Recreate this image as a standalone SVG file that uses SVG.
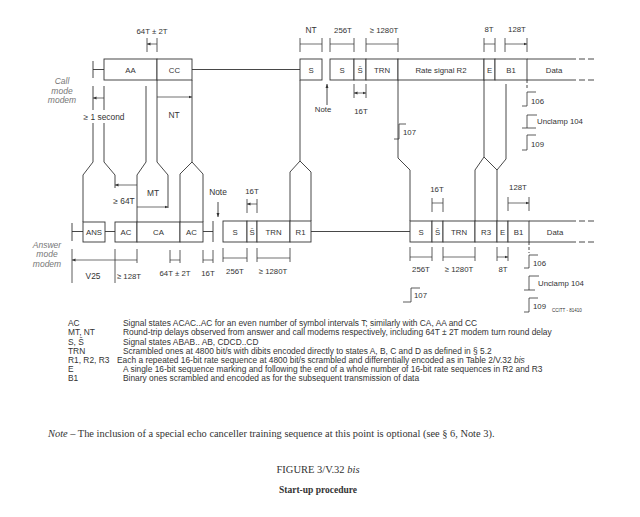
<svg xmlns="http://www.w3.org/2000/svg" width="640" height="517" viewBox="0 0 640 517">
<defs>
<marker id="ah" viewBox="0 0 6 6" refX="6" refY="3" markerUnits="userSpaceOnUse" markerWidth="3.5" markerHeight="3.5" orient="auto-start-reverse"><path d="M0,0.6 L6,3 L0,5.4z" fill="#333"/></marker>
<marker id="nh" viewBox="0 0 6 6" refX="6" refY="3" markerUnits="userSpaceOnUse" markerWidth="4" markerHeight="4" orient="auto"><path d="M0,0.8 L6,3 L0,5.2z" fill="#333"/></marker>
<style>
.ln{fill:none;stroke:#333;stroke-width:0.9}
.bx rect{fill:#fff;stroke:#333;stroke-width:0.9}
.tk{fill:none;stroke:#333;stroke-width:0.8}
.dm{fill:none;stroke:#333;stroke-width:0.7;marker-start:url(#ah);marker-end:url(#ah)}
.dash{fill:none;stroke:#333;stroke-width:0.9;stroke-dasharray:6,3}
text{font-family:"Liberation Sans",Arial,sans-serif;fill:#333}
.b{font-size:7.8px;text-anchor:middle}
.d{font-size:7.8px;text-anchor:middle}
.m{font-size:8.4px;text-anchor:middle}
.s{font-size:7.8px}
.lab{font-size:8.5px;font-style:italic;fill:#777;text-anchor:middle}
.lg{font-size:8.4px}
.sf{font-family:"Liberation Serif","Times New Roman",serif}
</style>
</defs>
<rect width="640" height="517" fill="#fff"/>

<g id="connectors" class="ln">
<path d="M93,86 V110 M93,123 V162 L83,175 V222"/>
<path d="M104,86 V110 M104,123 V162 L115,175 V188"/>
<path d="M146,86 V162 L137,175 V222"/>
<path d="M157,80 V162 L168,175 V208"/>
<path d="M192,80 V162 M180,222 V174 L192,162 L203,174 V222"/>
<path d="M300,80 V161 M290,221 V172 L300,161 L311,172 V221"/>
<path d="M398,80 V158 L410,170 V221"/>
<path d="M484,80 V157 M475,221 V170 L484,157 L497,170 V221 M506,84 V159 L497,170"/>
<path d="M93,61 V78 M93,69.5 H104 M192,69.5 H300"/>
<path d="M72,223 V241 M72,231.5 H83 M105,231.5 H115 M203,231.5 H213 M213,221 V242 M311,231.5 H410"/>
</g>

<g id="call-label"><text class="lab" x="62" y="84">Call</text><text class="lab" x="62" y="93.5">mode</text><text class="lab" x="62" y="103">modem</text></g>
<g id="answer-label"><text class="lab" x="47" y="247.5">Answer</text><text class="lab" x="47" y="257">mode</text><text class="lab" x="47" y="267">modem</text></g>

<g id="call-AA" class="bx"><rect x="104" y="59" width="53" height="21"/><text class="b" x="130.5" y="72.5">AA</text></g>
<g id="call-CC" class="bx"><rect x="157" y="59" width="35" height="21"/><text class="b" x="174.5" y="72.5">CC</text></g>
<g id="call-S1" class="bx"><rect x="300" y="59" width="22" height="21"/><text class="b" x="311" y="72.5">S</text></g>
<g id="call-S2" class="bx"><rect x="330" y="59" width="24" height="21"/><text class="b" x="342" y="72.5">S</text></g>
<g id="call-Sbar" class="bx"><rect x="354" y="59" width="12" height="21"/><text class="b" x="360" y="72.5">S&#772;</text></g>
<g id="call-TRN" class="bx"><rect x="366" y="59" width="32" height="21"/><text class="b" x="382" y="72.5">TRN</text></g>
<g id="call-R2" class="bx"><rect x="398" y="59" width="86" height="21"/><text class="b" x="441" y="72.5">Rate signal R2</text></g>
<g id="call-E" class="bx"><rect x="484" y="59" width="11" height="21"/><text class="b" x="489.5" y="72.5">E</text></g>
<g id="call-B1" class="bx"><rect x="495" y="59" width="32" height="21"/><text class="b" x="511" y="72.5">B1</text></g>
<g id="call-Data"><path class="ln" d="M527,59 H576 M527,80 H576"/><path class="dash" d="M579,59 H594 M579,80 H594"/><text class="b" x="554" y="72.5">Data</text></g>

<g id="ans-ANS" class="bx"><rect x="83" y="222" width="22" height="20"/><text class="b" x="94" y="235">ANS</text></g>
<g id="ans-AC1" class="bx"><rect x="115" y="222" width="22" height="20"/><text class="b" x="126" y="235">AC</text></g>
<g id="ans-CA" class="bx"><rect x="137" y="222" width="43" height="20"/><text class="b" x="158.5" y="235">CA</text></g>
<g id="ans-AC2" class="bx"><rect x="180" y="222" width="23" height="20"/><text class="b" x="191.5" y="235">AC</text></g>
<g id="ans-S1" class="bx"><rect x="223" y="221" width="24" height="21"/><text class="b" x="235" y="234.5">S</text></g>
<g id="ans-Sbar1" class="bx"><rect x="247" y="221" width="10" height="21"/><text class="b" x="252" y="234.5">S&#772;</text></g>
<g id="ans-TRN1" class="bx"><rect x="257" y="221" width="33" height="21"/><text class="b" x="273.5" y="234.5">TRN</text></g>
<g id="ans-R1" class="bx"><rect x="290" y="221" width="21" height="21"/><text class="b" x="300.5" y="234.5">R1</text></g>
<g id="ans-S2" class="bx"><rect x="410" y="221" width="22" height="21"/><text class="b" x="421" y="234.5">S</text></g>
<g id="ans-Sbar2" class="bx"><rect x="432" y="221" width="11" height="21"/><text class="b" x="437.5" y="234.5">S&#772;</text></g>
<g id="ans-TRN2" class="bx"><rect x="443" y="221" width="32" height="21"/><text class="b" x="459" y="234.5">TRN</text></g>
<g id="ans-R3" class="bx"><rect x="475" y="221" width="22" height="21"/><text class="b" x="486" y="234.5">R3</text></g>
<g id="ans-E" class="bx"><rect x="497" y="221" width="11" height="21"/><text class="b" x="502.5" y="234.5">E</text></g>
<g id="ans-B1" class="bx"><rect x="508" y="221" width="21" height="21"/><text class="b" x="518.5" y="234.5">B1</text></g>
<g id="ans-Data"><path class="ln" d="M529,221 H576 M529,242 H576"/><path class="dash" d="M579,221 H594 M579,242 H594"/><text class="b" x="555" y="234.5">Data</text></g>

<g id="dims">
<path class="tk" d="M147,38 V52 M157,38 V52 M300,38 V52 M322,38 V52 M330,38 V52 M354,38 V52 M366,38 V52 M398,38 V52 M484,38 V52 M495,38 V52 M505,38 V52 M527,38 V52"/>
<path class="dm" d="M147,44 H157 M300,44 H322 M330,44 H354 M366,44 H398 M484,44 H495 M505,44 H527"/>
<text class="d" x="152" y="34">64T &#177; 2T</text>
<text class="m" x="311" y="33">NT</text>
<text class="d" x="343" y="33">256T</text>
<text class="d" x="384" y="33">&#8805; 1280T</text>
<text class="d" x="489" y="32">8T</text>
<text class="d" x="517" y="32">128T</text>
<path class="tk" d="M354,84 V98 M366,84 V98"/>
<path class="dm" d="M354,93 H366"/>
<text class="d" x="361" y="114">16T</text>
<path class="ln" d="M327,105 V84" marker-end="url(#nh)"/>
<text class="d" x="323" y="112">Note</text>
<path class="dm" d="M93,98 H104 M157,97 H192"/>
<text class="m" x="104" y="120">&#8805; 1 second</text>
<text class="m" x="174" y="118">NT</text>
<path class="dm" d="M115,185 H137 M137,207 H168"/>
<text class="m" x="124" y="204">&#8805; 64T</text>
<text class="m" x="153" y="196">MT</text>
<text class="m" x="218" y="195">Note</text>
<path class="ln" d="M218,202 V217" marker-end="url(#nh)"/>
<path class="tk" d="M247,199 V213 M257,199 V213 M432,198 V212 M443,198 V212 M508,197 V211 M529,197 V211"/>
<path class="dm" d="M247,204 H257 M432,203 H443 M508,203 H529"/>
<text class="d" x="252" y="194">16T</text>
<text class="d" x="437" y="192">16T</text>
<text class="d" x="518" y="190">128T</text>
<path class="tk" d="M72,249 V283 M115,249 V283 M137,249 V263 M170,250 V263 M180,250 V263 M203,250 V263 M213,250 V263 M223,248 V262 M247,248 V262 M257,248 V262 M290,248 V262 M410,247 V261 M432,247 V261 M443,247 V261 M475,247 V261 M497,247 V261 M508,247 V261"/>
<path class="dm" d="M72,260 H115 M115,260 H137 M170,260 H180 M203,260 H213 M223,258 H247 M257,258 H290 M410,257 H432 M443,257 H475 M497,257 H508"/>
<text class="m" x="93" y="279">V25</text>
<text class="d" x="129" y="279">&#8805; 128T</text>
<text class="d" x="175" y="276">64T &#177; 2T</text>
<text class="d" x="208" y="276">16T</text>
<text class="d" x="235" y="274">256T</text>
<text class="d" x="273" y="274">&#8805; 1280T</text>
<text class="d" x="421" y="272">256T</text>
<text class="d" x="459" y="272">&#8805; 1280T</text>
<text class="d" x="503" y="272">8T</text>
</g>

<g id="circuits">
<path class="tk" d="M394,139 H399 V124 H406"/><text class="s" x="403" y="135">107</text>
<path class="dash" d="M527,80 V90" style="stroke-dasharray:3,2"/>
<path class="tk" d="M522,106 H527 V92 H536"/><text class="s" x="531" y="104">106</text>
<path class="tk" d="M522,128 H536 M527,128 V115 H537"/><text class="s" x="537" y="124" fill="#555">Unclamp 104</text>
<path class="tk" d="M522,150 H527 V135 H536"/><text class="s" x="531" y="147">109</text>
<path class="tk" d="M403,302 H411 V288 H420"/><text class="s" x="414" y="298">107</text>
<path class="dash" d="M529,242 V253" style="stroke-dasharray:3,2"/>
<path class="tk" d="M524,268 H529 V255 H538"/><text class="s" x="533" y="266">106</text>
<path class="tk" d="M524,290 H535 M529,290 V276 H539"/><text class="s" x="538" y="286" fill="#555">Unclamp 104</text>
<path class="tk" d="M524,312 H529 V298 H538"/><text class="s" x="533" y="309">109</text>
<text x="552" y="312" font-size="4.5">CCITT - 81410</text>
</g>

<g id="legend" class="lg">
<text x="68" y="325.5">AC</text><text x="123" y="325.5">Signal states ACAC..AC for an even number of symbol intervals T; similarly with CA, AA and CC</text>
<text x="68" y="335">MT, NT</text><text x="123" y="335">Round-trip delays observed from answer and call modems respectively, including 64T &#177; 2T modem turn round delay</text>
<text x="68" y="344.5">S, S&#772;</text><text x="123" y="344.5">Signal states ABAB.. AB, CDCD..CD</text>
<text x="68" y="353.5">TRN</text><text x="123" y="353.5">Scrambled ones at 4800 bit/s with dibits encoded directly to states A, B, C and D as defined in &#167; 5.2</text>
<text x="68" y="362.5">R1, R2, R3</text><text x="117" y="362.5">Each a repeated 16-bit rate sequence at 4800 bit/s scrambled and differentially encoded as in Table 2/V.32 <tspan font-style="italic">bis</tspan></text>
<text x="68" y="371.5">E</text><text x="123" y="371.5">A single 16-bit sequence marking and following the end of a whole number of 16-bit rate sequences in R2 and R3</text>
<text x="68" y="380.5">B1</text><text x="123" y="380.5">Binary ones scrambled and encoded as for the subsequent transmission of data</text>
</g>

<g id="footer">
<text class="sf" x="48" y="437" font-size="10.4"><tspan font-style="italic">Note</tspan> &#8211; The inclusion of a special echo canceller training sequence at this point is optional (see &#167; 6, Note 3).</text>
<text class="sf" x="318" y="473" font-size="10.5" text-anchor="middle">FIGURE 3/V.32 <tspan font-style="italic">bis</tspan></text>
<text class="sf" x="318" y="493" font-size="9.5" font-weight="bold" text-anchor="middle">Start-up procedure</text>
</g>
</svg>
